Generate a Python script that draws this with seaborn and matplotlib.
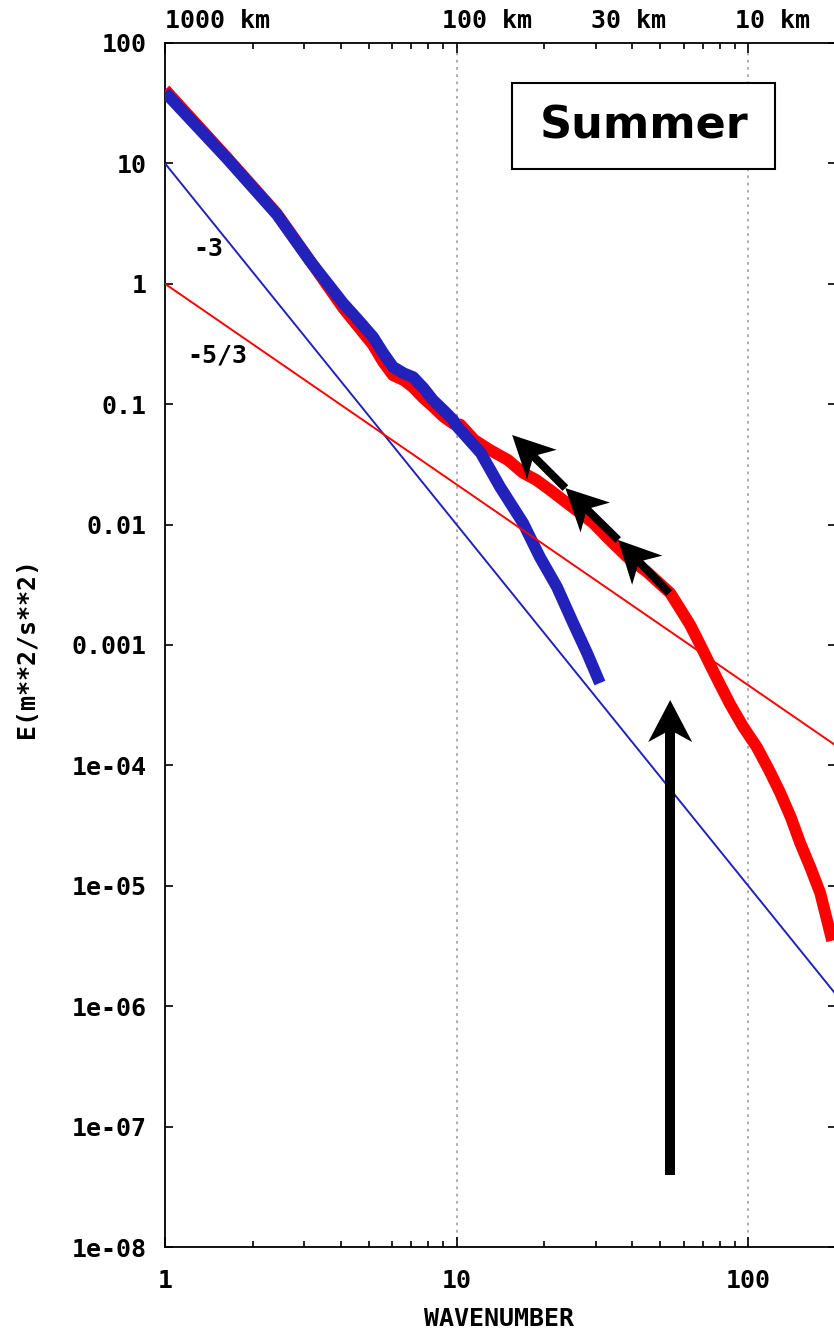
import math
import matplotlib
matplotlib.use("Agg")
import matplotlib.pyplot as plt
import pandas as pd
import seaborn as sns
from matplotlib.patches import Rectangle, Polygon
from matplotlib.ticker import FixedLocator, FixedFormatter, NullLocator
import matplotlib.transforms as mtransforms

# Kinetic energy spectrum, summer case (red) and the comparison run (blue)
red_wavenumber = [1.0, 1.63, 2.42, 3.14, 4.08, 4.6, 5.17, 5.6, 6.05, 6.6, 7.09, 7.7,
                  8.3, 9.0, 9.73, 10.3, 11.5, 13.0, 15.0, 16.9, 18.8, 20.9, 23.9,
                  26.5, 29.4, 33.5, 38.5, 45.0, 54.0, 58.4, 63.2, 68.5, 74.1, 80.0,
                  86.8, 96.0, 107.0, 118.0, 128.8, 140.0, 150.8, 163.0, 176.6, 194.0]
red_energy = [41.0, 11.2, 3.82, 1.56, 0.63, 0.44, 0.31, 0.224, 0.174, 0.158, 0.138,
              0.112, 0.0955, 0.079, 0.069, 0.0676, 0.0505, 0.0417, 0.0344, 0.0269,
              0.0234, 0.0194, 0.0151, 0.0125, 0.0103, 0.00745, 0.00537, 0.00404,
              0.0027, 0.0020, 0.00147, 0.0010, 6.8e-4, 4.7e-4, 3.2e-4, 2.1e-4,
              1.42e-4, 9.1e-5, 5.9e-5, 3.7e-5, 2.26e-5, 1.44e-5, 8.7e-6, 3.5e-6]

blue_wavenumber = [1.0, 1.63, 2.42, 3.14, 4.08, 4.6, 5.17, 5.6, 6.05, 6.6, 7.09, 7.7,
                   8.3, 9.0, 9.73, 10.0, 12.1, 14.1, 16.9, 19.3, 22.1, 25.1, 28.0, 31.0]
blue_energy = [39.0, 11.0, 3.76, 1.55, 0.69, 0.50, 0.361, 0.266, 0.204, 0.18, 0.168,
               0.136, 0.108, 0.0895, 0.074, 0.066, 0.0394, 0.0205, 0.0103, 0.00537,
               0.00302, 0.00152, 8.6e-4, 4.83e-4]

# Reference power laws: k^-3 and k^-5/3
ref_wavenumber = [1.0, 200.0]
ref_minus3 = [10.0, 1.25e-6]
ref_minus53 = [1.0, 1.46e-4]
slope_labels = ["-3", "-5/3"]
slope_label_n = [1.25, 1.19]
slope_label_e = [1.95, 0.256]

# Axis ticks and labels
x_major = [1, 10, 100]
x_major_labels = ["1", "10", "100"]
x_minor = [2, 3, 4, 5, 6, 7, 8, 9, 20, 30, 40, 50, 60, 70, 80, 90, 200]
y_ticks = [1e-8, 1e-7, 1e-6, 1e-5, 1e-4, 1e-3, 1e-2, 1e-1, 1, 10, 100]
y_tick_labels = ["1e-08", "1e-07", "1e-06", "1e-05", "1e-04", "0.001", "0.01",
                 "0.1", "1", "10", "100"]
top_labels = ["1000 km", "100 km", "30 km", "10 km"]
top_label_n = [1.0, 8.92, 28.9, 90.2]

# Arrow annotations
chain_n = [53.6, 35.8, 23.6, 15.5]
chain_e = [2.70e-3, 7.45e-3, 2.01e-2, 5.55e-2]
vertical_arrow_n = 54.0
vertical_arrow_e = [3.96e-8, 3.49e-4]

sns.set_style("ticks")
plt.rcParams["font.family"] = ["DejaVu Sans Mono", "DejaVu Sans"]
plt.rcParams["font.weight"] = "bold"
for key in ("text.color", "axes.labelcolor", "xtick.color", "ytick.color",
            "axes.edgecolor"):
    plt.rcParams[key] = "black"

RED = "#ff0000"
BLUE = "#2222bb"
MONO = dict(family=["DejaVu Sans Mono"], weight="bold", size=18, color="black")

fig = plt.figure(figsize=(8.34, 13.33), dpi=100)
ax = fig.add_axes([0.19784, 0.064516, 0.80456, 0.90323])
ax.set_xscale("log")
ax.set_yscale("log")

red_df = pd.DataFrame({"n": red_wavenumber, "E": red_energy})
blue_df = pd.DataFrame({"n": blue_wavenumber, "E": blue_energy})
ref_df = pd.DataFrame({"n": ref_wavenumber, "m3": ref_minus3, "m53": ref_minus53})

sns.lineplot(data=red_df, x="n", y="E", ax=ax, color=RED, linewidth=8.5,
             sort=False, estimator=None, solid_joinstyle="round",
             solid_capstyle="butt", zorder=3)
sns.lineplot(data=blue_df, x="n", y="E", ax=ax, color=BLUE, linewidth=8.5,
             sort=False, estimator=None, solid_joinstyle="round",
             solid_capstyle="butt", zorder=4)
sns.lineplot(data=ref_df, x="n", y="m3", ax=ax, color=BLUE, linewidth=1.4,
             sort=False, estimator=None, zorder=5)
sns.lineplot(data=ref_df, x="n", y="m53", ax=ax, color=RED, linewidth=1.4,
             sort=False, estimator=None, zorder=5)

ax.set_xlim(1, 200)
ax.set_ylim(1e-8, 100)
ax.set_xlabel("")
ax.set_ylabel("")

# ticks
ax.xaxis.set_major_locator(FixedLocator(x_major))
ax.xaxis.set_major_formatter(FixedFormatter(x_major_labels))
ax.xaxis.set_minor_locator(FixedLocator(x_minor))
ax.yaxis.set_major_locator(FixedLocator(y_ticks))
ax.yaxis.set_major_formatter(FixedFormatter(y_tick_labels))
ax.yaxis.set_minor_locator(NullLocator())
ax.tick_params(axis="x", which="major", direction="in", length=7, width=1.2,
               top=True, bottom=True, pad=16, labelsize=18, colors="black")
ax.tick_params(axis="x", which="minor", direction="in", length=4.5, width=1.2,
               top=True, bottom=True, colors="black")
ax.tick_params(axis="y", which="major", direction="in", length=6, width=1.2,
               left=True, right=True, pad=13, labelsize=18, colors="black")
for lbl in ax.get_xticklabels() + ax.get_yticklabels():
    lbl.set_fontfamily("DejaVu Sans Mono")
    lbl.set_fontweight("bold")
for sp in ax.spines.values():
    sp.set_visible(True)
    sp.set_linewidth(1.3)
    sp.set_color("black")

ax.grid(True, axis="x", which="major", color="#a8a8a8",
        linestyle=(0, (1.5, 2.5)), linewidth=1.3)
ax.set_axisbelow(True)

# wavelength labels along the top
top_tr = mtransforms.blended_transform_factory(ax.transData, ax.transAxes)
for txt, n in zip(top_labels, top_label_n):
    ax.text(n, 1.0183, txt, transform=top_tr, ha="left", va="center",
            clip_on=False, **MONO)

# slope labels
for txt, n, e in zip(slope_labels, slope_label_n, slope_label_e):
    ax.text(n, e, txt, ha="left", va="center", zorder=6, **MONO)

# season box
ax.add_patch(Rectangle((0.5171, 0.8953), 0.3920, 0.0714, transform=ax.transAxes,
                       facecolor="white", edgecolor="black", linewidth=1.5,
                       zorder=6))
ax.text(0.7138, 0.9311, "Summer", transform=ax.transAxes, ha="center",
        va="center", family=["DejaVu Sans"], weight="bold", size=32,
        color="black", zorder=7)


def draw_arrow(start, end, shaft_px, head_len_px, head_half_px, notch_px):
    """Filled arrow with a swept-back head, built in pixel space."""
    (x0, y0), (x1, y1) = ax.transData.transform([start, end])
    length = math.hypot(x1 - x0, y1 - y0)
    ux, uy = (x1 - x0) / length, (y1 - y0) / length
    px, py = -uy, ux
    bx, by = x1 - ux * head_len_px, y1 - uy * head_len_px
    nx, ny = x1 - ux * notch_px, y1 - uy * notch_px
    head = [(x1, y1),
            (bx + px * head_half_px, by + py * head_half_px),
            (nx, ny),
            (bx - px * head_half_px, by - py * head_half_px)]
    w = shaft_px / 2
    sx, sy = x1 - ux * (notch_px - 2), y1 - uy * (notch_px - 2)
    shaft = [(x0 + px * w, y0 + py * w), (sx + px * w, sy + py * w),
             (sx - px * w, sy - py * w), (x0 - px * w, y0 - py * w)]
    ident = mtransforms.IdentityTransform()
    for verts in (shaft, head):
        ax.add_patch(Polygon(verts, closed=True, transform=ident,
                             facecolor="black", edgecolor="none", zorder=8))


# chained arrows following the spectrum
for i in range(len(chain_n) - 1):
    draw_arrow((chain_n[i], chain_e[i]), (chain_n[i + 1], chain_e[i + 1]),
               shaft_px=8, head_len_px=42, head_half_px=21, notch_px=30)

# vertical arrow
draw_arrow((vertical_arrow_n, vertical_arrow_e[0]),
           (vertical_arrow_n, vertical_arrow_e[1]),
           shaft_px=10, head_len_px=42, head_half_px=22, notch_px=30)

fig.text(499 / 834, 1 - 1319 / 1333, "WAVENUMBER", ha="center", va="center",
         **MONO)
fig.text(27 / 834, 1 - 648 / 1333, "E(m**2/s**2)", ha="center", va="center",
         rotation=90, **MONO)

fig.savefig("out.png", dpi=100)
